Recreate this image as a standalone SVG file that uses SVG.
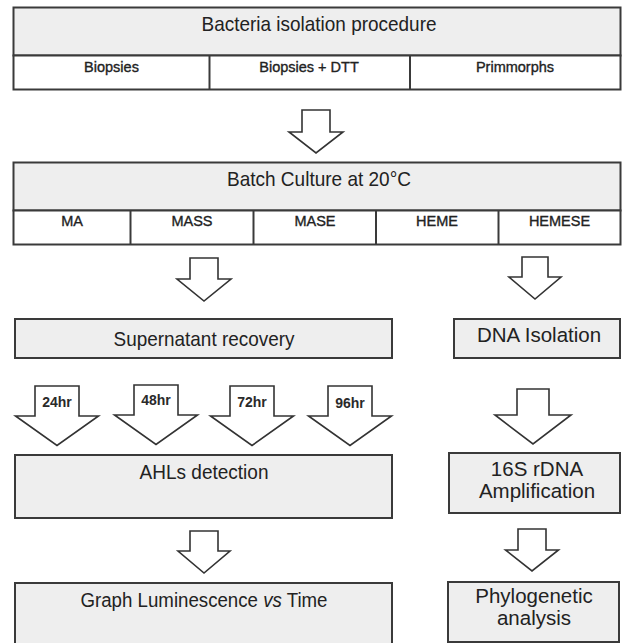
<svg xmlns="http://www.w3.org/2000/svg" width="622" height="643" viewBox="0 0 622 643">
<style>
.bg{fill:#ffffff}
.box{fill:#eeeeee;stroke:#3a3a3a;stroke-width:2}
.sub{fill:#ffffff;stroke:#3a3a3a;stroke-width:2}
.div{stroke:#3a3a3a;stroke-width:2}
.arr{fill:#ffffff;stroke:#333333;stroke-width:1.6;stroke-linejoin:miter}
text{font-family:"Liberation Sans",Arial,sans-serif;fill:#222222;text-anchor:middle}
.t{font-size:21px}
.r{font-size:20.5px}
.s{font-size:14.5px;stroke:#222222;stroke-width:0.35}
.h{font-size:14px;font-weight:bold;fill:#2a2a2a}
</style>
<rect class="bg" x="0" y="0" width="622" height="643"/>
<g id="connectors">
<path class="arr" d="M302,110 H330 V132 H343 L316,153 L289,132 H302 Z"/>
<path class="arr" d="M190,258 H218 V279 H231 L204,301 L177,279 H190 Z"/>
<path class="arr" d="M522,257 H548 V277 H561 L535,299 L509,277 H522 Z"/>
<path class="arr" d="M35,386 H79 V416 H98.5 L57,445.5 L15.5,416 H35 Z"/>
<path class="arr" d="M134,385 H178 V415 H197.5 L156,444.5 L114.5,415 H134 Z"/>
<path class="arr" d="M230,386 H274 V416 H293.5 L252,445.5 L210.5,416 H230 Z"/>
<path class="arr" d="M328,386 H372 V416 H391.5 L350,445.5 L308.5,416 H328 Z"/>
<path class="arr" d="M517,389 H549 V415 H571 L533,444 L495,415 H517 Z"/>
<path class="arr" d="M190,531 H218 V551 H230 L204,573 L178,551 H190 Z"/>
<path class="arr" d="M518,529 H546 V550 H558.5 L532,571 L505.5,550 H518 Z"/>
<text class="h" x="57" y="407">24hr</text>
<text class="h" x="156" y="405">48hr</text>
<text class="h" x="252" y="407">72hr</text>
<text class="h" x="350" y="408">96hr</text>
</g>
<g id="isolation">
<rect class="box" x="13.5" y="7.5" width="607" height="48"/>
<rect class="sub" x="13.5" y="55.5" width="607" height="34"/>
<line class="div" x1="209.5" y1="55.5" x2="209.5" y2="89.5"/>
<line class="div" x1="410" y1="55.5" x2="410" y2="89.5"/>
<text class="t" x="319" y="30.5" textLength="235" lengthAdjust="spacingAndGlyphs">Bacteria isolation procedure</text>
<text class="s" x="111.5" y="71.5">Biopsies</text>
<text class="s" x="309" y="71.5">Biopsies + DTT</text>
<text class="s" x="515" y="71.5">Primmorphs</text>
</g>
<g id="batch">
<rect class="box" x="13.5" y="162.5" width="607" height="48"/>
<rect class="sub" x="13.5" y="210.5" width="607" height="34"/>
<line class="div" x1="130.5" y1="210.5" x2="130.5" y2="244.5"/>
<line class="div" x1="253.5" y1="210.5" x2="253.5" y2="244.5"/>
<line class="div" x1="376" y1="210.5" x2="376" y2="244.5"/>
<line class="div" x1="498.5" y1="210.5" x2="498.5" y2="244.5"/>
<text class="t" x="319" y="185.5" textLength="184" lengthAdjust="spacingAndGlyphs">Batch Culture at 20°C</text>
<text class="s" x="72" y="226">MA</text>
<text class="s" x="192" y="226">MASS</text>
<text class="s" x="315" y="226">MASE</text>
<text class="s" x="437" y="226">HEME</text>
<text class="s" x="559.5" y="226">HEMESE</text>
</g>
<g id="supernatant">
<rect class="box" x="15" y="319" width="377" height="39"/>
<text class="t" x="204" y="346" textLength="181" lengthAdjust="spacingAndGlyphs">Supernatant recovery</text>
</g>
<g id="ahls">
<rect class="box" x="15" y="455" width="377" height="63"/>
<text class="t" x="204" y="478.5" textLength="129" lengthAdjust="spacingAndGlyphs">AHLs detection</text>
</g>
<g id="graph">
<rect class="box" x="15" y="583" width="377" height="64"/>
<text class="t" transform="translate(204 606.5) scale(0.89 1)" x="0" y="0">Graph Luminescence <tspan font-style="italic">vs</tspan> Time</text>
</g>
<g id="dna">
<rect class="box" x="454" y="319" width="166" height="39"/>
<text class="r" x="539" y="342">DNA Isolation</text>
</g>
<g id="rdna">
<rect class="box" x="449" y="453" width="171" height="60"/>
<text class="r" x="537" y="476">16S rDNA</text>
<text class="r" x="537" y="498">Amplification</text>
</g>
<g id="phylo">
<rect class="box" x="448" y="582" width="171" height="60"/>
<text class="r" x="534" y="602.5">Phylogenetic</text>
<text class="r" x="534" y="625">analysis</text>
</g>
</svg>
